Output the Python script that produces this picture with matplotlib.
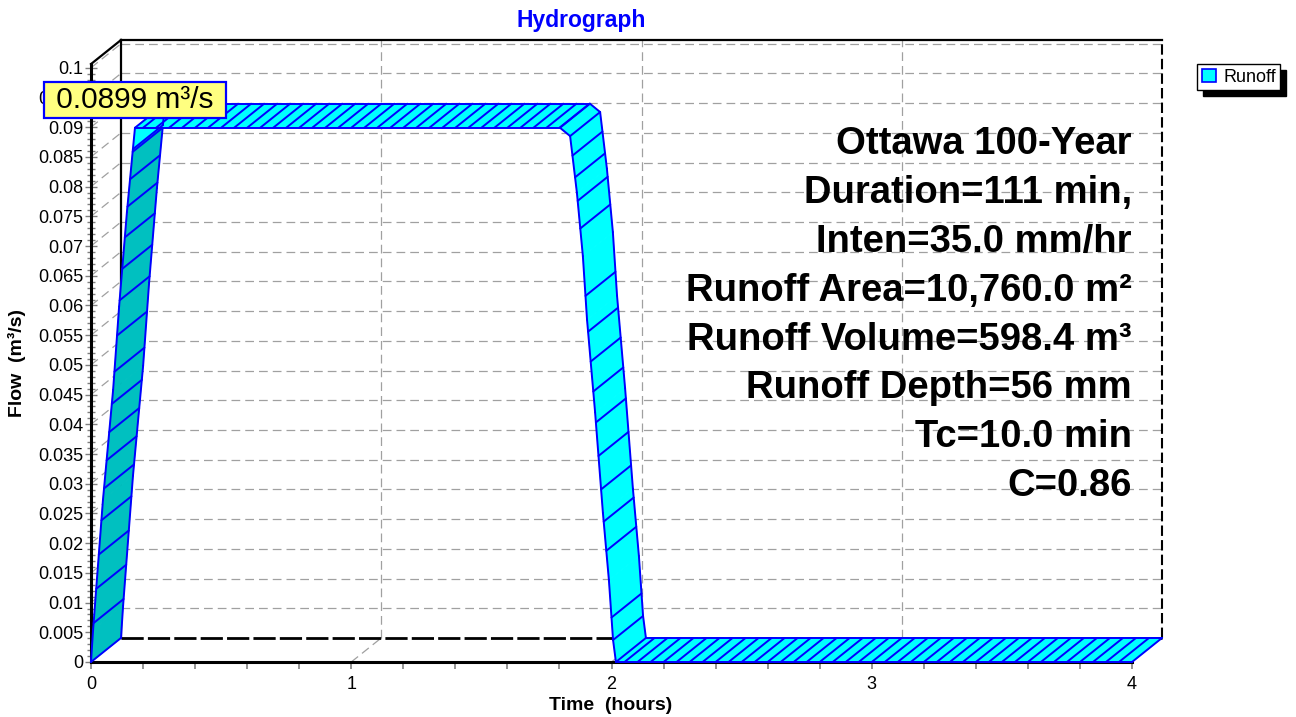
import numpy as np
import matplotlib.pyplot as plt
from matplotlib.patches import Polygon, Patch

plt.rcParams['font.family'] = ['Liberation Sans', 'DejaVu Sans']

# runoff hydrograph (hours, m3/s)
time_hr = [0.0, 0.008, 0.046, 0.085, 0.108, 0.138, 0.161, 0.169,
           1.802, 1.841, 1.867, 1.890, 1.906, 1.937, 1.967, 1.990, 2.006, 2.017, 4.0]
flow_cms = [0.0, 0.0054, 0.0273, 0.0458, 0.0598, 0.0757, 0.0863, 0.0899,
            0.0899, 0.0885, 0.0790, 0.0683, 0.0576, 0.0420, 0.0251, 0.0138, 0.0037, 0.0, 0.0]

x_ticks = [0, 1, 2, 3, 4]
y_ticks = [round(0.005 * k, 3) for k in range(21)]
grid_times = [1, 2, 3]

summary_lines = ["Ottawa 100-Year", "Duration=111 min,", "Inten=35.0 mm/hr",
                 "Runoff Area=10,760.0 m\u00b2", "Runoff Volume=598.4 m\u00b3",
                 "Runoff Depth=56 mm", "Tc=10.0 min", "C=0.86"]

W, H, DPI = 1296, 717, 100
CYAN = '#00FFFF'
TEAL = '#00C0C0'
BLUE = '#0000FF'
GRID = '#A0A0A0'

# pixel frame of the front plane and the depth offset of the back plane
X0, X4, Y0 = 91, 1132, 662
SX = (X4 - X0) / 4.0
SY = 5933.0
DX = 30 / SX
DY = 24 / SY
FRONT_TOP = (Y0 - 65) / SY
BACK_TOP = FRONT_TOP + DY

fig = plt.figure(figsize=(W / DPI, H / DPI), dpi=DPI)
ax = fig.add_axes([X0 / W, (H - Y0) / H, (X4 + 30 - X0) / W, (Y0 - 40) / H])
ax.set_xlim(0, 4 + DX)
ax.set_ylim(0, BACK_TOP)
ax.patch.set_visible(False)

# axes spines / ticks
for s in ['top', 'right']:
    ax.spines[s].set_visible(False)
ax.spines['left'].set_bounds(0, FRONT_TOP)
ax.spines['bottom'].set_bounds(0, 4)
ax.spines['left'].set_linewidth(2.2)
ax.spines['bottom'].set_linewidth(2.2)

ax.set_yticks(y_ticks)
ax.set_yticklabels([f"{v:g}" for v in y_ticks])
ax.set_yticks(np.arange(0, 0.1001, 0.001), minor=True)
ax.set_xticks(x_ticks)
ax.set_xticklabels([str(v) for v in x_ticks])
ax.set_xticks(np.arange(0, 4.001, 0.2), minor=True)
ax.tick_params(axis='y', which='major', direction='inout', length=9, width=1,
               color='#808080', labelsize=13, pad=1)
ax.tick_params(axis='y', which='minor', direction='inout', length=6, width=1,
               color='#808080')
ax.tick_params(axis='x', which='both', direction='out', length=5, width=1.2,
               color='#808080', labelsize=13, pad=5)

# back wall grid and side-wall / floor guide lines
dash = dict(color=GRID, lw=0.9, dashes=(7, 4), zorder=1, clip_on=False)
for q in y_ticks[1:]:
    ax.plot([DX, 4 + DX], [q + DY, q + DY], **dash)
    ax.plot([0, DX], [q, q + DY], **dash)
for t in grid_times:
    ax.plot([t + DX, t + DX], [DY, BACK_TOP], **dash)
    ax.plot([t, t + DX], [0, DY], **dash)

# back wall frame
frame = dict(color='black', zorder=1.5, clip_on=False)
ax.plot([DX, DX], [DY, BACK_TOP], lw=1.6, **frame)
ax.plot([DX, 4 + DX], [BACK_TOP, BACK_TOP], lw=1.6, **frame)
ax.plot([0, DX], [FRONT_TOP, BACK_TOP], lw=1.6, **frame)
ax.plot([4 + DX, 4 + DX], [DY, BACK_TOP], lw=1.5, dashes=(5, 2), **frame)
ax.plot([DX, 4 + DX], [DY, DY], lw=2.0, dashes=(8, 1.5), **frame)

# ribbon: one quad per segment, rising faces shaded and drawn underneath
t = np.array(time_hr)
q = np.array(flow_cms)
line = dict(color=BLUE, lw=1.4, clip_on=False, solid_capstyle='round')


def depth_line(tt, qq, z):
    ax.plot([tt, tt + DX], [qq, qq + DY], zorder=z, **line)


flat = [abs(q[i + 1] - q[i]) < 0.005 for i in range(len(t) - 1)]
for i in range(len(t) - 1):
    t0, t1, q0, q1 = t[i], t[i + 1], q[i], q[i + 1]
    rising = q1 > q0 and not flat[i]
    col = TEAL if rising else CYAN
    z = 3 if rising else 4
    ax.add_patch(Polygon([(t0, q0), (t1, q1), (t1 + DX, q1 + DY), (t0 + DX, q0 + DY)],
                         closed=True, fc=col, ec=col, lw=0.6, zorder=z, clip_on=False))
    ax.plot([t0, t1], [q0, q1], zorder=z + 0.5, **line)
    ax.plot([t0 + DX, t1 + DX], [q0 + DY, q1 + DY], zorder=z + 0.5, **line)

    step = 0.05 if flat[i] else 0.01
    k0 = int(np.ceil(t0 / step + 1e-6))
    k1 = int(np.floor(t1 / step - 1e-6))
    for k in range(k0, k1 + 1):
        th = k * step
        depth_line(th, np.interp(th, [t0, t1], [q0, q1]), z + 0.5)

# edges where the ribbon turns onto or off a flat run, plus the two end caps
for i in range(len(t)):
    left_flat = i > 0 and flat[i - 1]
    right_flat = i < len(t) - 1 and flat[i]
    if i == 0 or i == len(t) - 1 or left_flat or right_flat:
        depth_line(t[i], q[i], 4.5)

# peak label
i_peak = int(np.argmax(q))
ax.annotate(f" {q[i_peak]:.4f} m\u00b3/s ", xy=(t[i_peak], q[i_peak]), xytext=(0, 20),
            textcoords='offset points', ha='center', va='center', fontsize=21.5,
            bbox=dict(boxstyle='square,pad=0.14', fc='#FFFF80', ec=BLUE, lw=1.6),
            zorder=10, annotation_clip=False)

# run summary
for n, txt in enumerate(summary_lines):
    fig.text(X4 / W, 1 - (154 + 48.9 * n) / H, txt, ha='right', va='baseline',
             fontsize=27.5, fontweight='bold')

fig.text(581 / W, 1 - 27 / H, "Hydrograph", ha='center', va='baseline',
         fontsize=16.5, fontweight='bold', color=BLUE)
fig.text(611 / W, 1 - 706 / H, "Time  (hours)", ha='center', va='center',
         fontsize=14, fontweight='bold')
fig.text(17 / W, 1 - 363 / H, "Flow  (m\u00b3/s)", ha='center', va='center',
         rotation=90, fontsize=14, fontweight='bold')

fig.legend(handles=[Patch(fc=CYAN, ec=BLUE, lw=1.2, label='Runoff')],
           loc='upper left', bbox_to_anchor=(1197 / W, 1 - 64 / H),
           fontsize=13, frameon=True, fancybox=False, edgecolor='black',
           framealpha=1, borderpad=0.25, handlelength=0.8, handleheight=0.8,
           handletextpad=0.4, borderaxespad=0,
           shadow={'color': 'black', 'alpha': 1, 'ox': 4, 'oy': -4})

fig.savefig('out.png', dpi=DPI)
